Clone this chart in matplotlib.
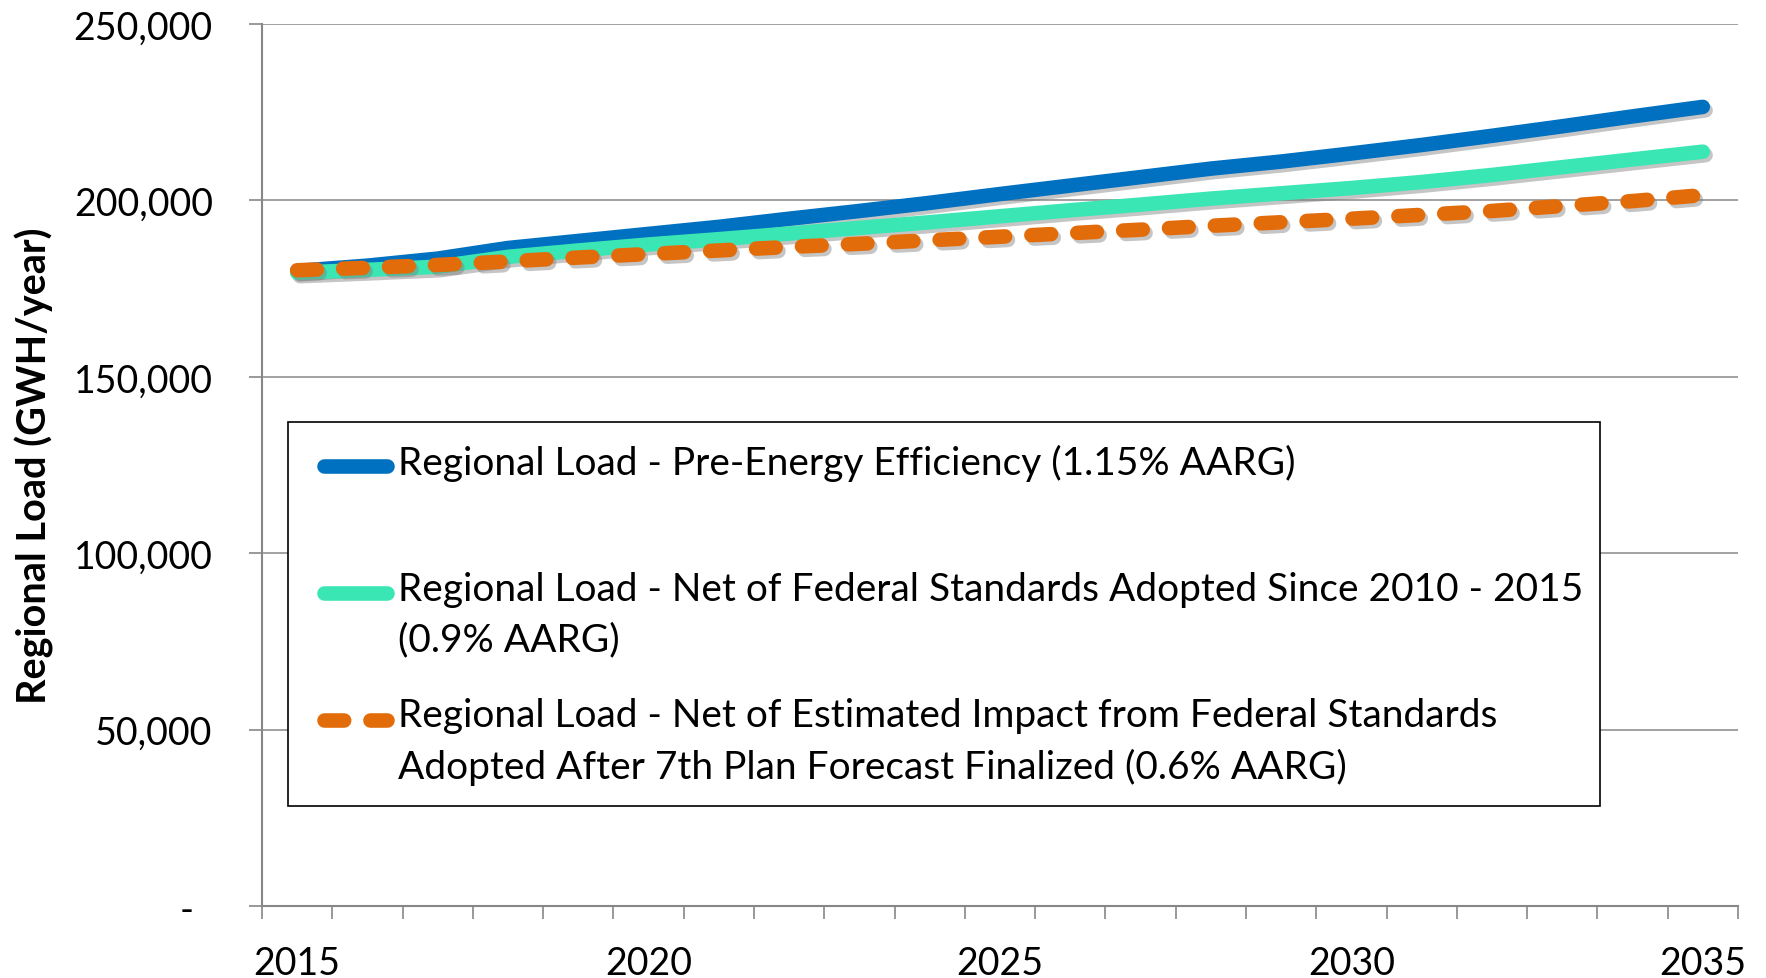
import numpy as np
import matplotlib
matplotlib.use("Agg")
import matplotlib.pyplot as plt
import matplotlib.patheffects as pe
from matplotlib.legend_handler import HandlerLine2D
from matplotlib.ticker import FuncFormatter, MultipleLocator

plt.rcParams['font.family'] = ['Lato', 'DejaVu Sans']

years = list(range(2015, 2036))
pre_ee = [180.0, 181.5, 183.5, 186.5, 188.5, 190.5, 192.5, 194.8, 197.0, 199.3, 201.8,
          204.2, 206.6, 209.0, 211.0, 213.3, 215.7, 218.3, 221.0, 223.8, 226.5]
net_fed = [179.5, 180.3, 181.2, 184.0, 185.8, 187.5, 189.0, 190.6, 192.2, 193.8, 195.5,
           197.2, 198.8, 200.5, 202.0, 203.5, 205.2, 207.2, 209.4, 211.6, 213.8]
net_7th = [180.2, 180.9, 181.7, 182.7, 183.8, 184.8, 185.8, 186.8, 187.7, 188.7, 189.7,
           190.7, 191.7, 192.8, 193.8, 194.8, 195.9, 197.0, 198.4, 199.8, 201.5]
labels = ["Regional Load - Pre-Energy Efficiency (1.15% AARG)\n ",
          "Regional Load - Net of Federal Standards Adopted Since 2010 - 2015\n(0.9% AARG)",
          "Regional Load - Net of Estimated Impact from Federal Standards\n"
          "Adopted After 7th Plan Forecast Finalized (0.6% AARG)"]
colors = ["#0070C0", "#3AE6B4", "#E36C0A"]

FS = 27
LEG_FS = 28
HANDLE_SHIFT = 15.8  # points, lifts the sample to the first text line


class FirstLineHandler(HandlerLine2D):
    # put the legend sample next to the first text line, like Excel does
    def create_artists(self, legend, orig_handle, xdescent, ydescent,
                       width, height, fontsize, trans):
        arts = super().create_artists(legend, orig_handle, xdescent, ydescent,
                                      width, height, fontsize, trans)
        for a in arts:
            y = np.array(a.get_ydata(), float) + HANDLE_SHIFT
            x = np.array(a.get_xdata(), float)
            if len(x) >= 2:
                x0 = x[0] + 0.375 * fontsize
                x = np.linspace(x0, x[-1], len(x))
            a.set_data(x, y)
        return arts


fig = plt.figure(figsize=(17.66, 9.79), dpi=100)
ax = fig.add_axes([0.1484, 0.0735, 0.8357, 0.901])

x = np.arange(len(years))
shadow = [pe.SimpleLineShadow(offset=(2, -2.5), shadow_color="#7f7f7f", alpha=0.45), pe.Normal()]
lw = 10.5
h1, = ax.plot(x, np.array(pre_ee) * 1000, color=colors[0], lw=lw,
              solid_capstyle="round", path_effects=shadow, label=labels[0])
h2, = ax.plot(x, np.array(net_fed) * 1000, color=colors[1], lw=lw,
              solid_capstyle="round", path_effects=shadow, label=labels[1])
h3, = ax.plot(x, np.array(net_7th) * 1000, color=colors[2], lw=lw,
              dashes=(1.35, 1.8), dash_capstyle="round", path_effects=shadow,
              label=labels[2])

ax.set_xlim(-0.5, len(years) - 0.5)
ax.set_ylim(0, 250000)
ax.set_xticks(x[::5])
ax.set_xticklabels([str(y) for y in years[::5]])
ax.set_xticks(np.arange(-0.5, len(years)), minor=True)
ax.tick_params(axis="x", which="major", length=0, pad=28, labelsize=FS)
ax.tick_params(axis="x", which="minor", length=9.5, width=1.2, color="#878787", direction="out")
ax.yaxis.set_major_locator(MultipleLocator(50000))
ax.yaxis.set_major_formatter(FuncFormatter(lambda v, p: "-  " if v == 0 else f"{v:,.0f}"))
ax.tick_params(axis="y", length=9.5, width=1.2, color="#878787", pad=26, labelsize=FS)
ax.grid(axis="y", color="#878787", lw=1.1)
ax.set_axisbelow(True)
for s in ["top", "right"]:
    ax.spines[s].set_visible(False)
for s in ["left", "bottom"]:
    ax.spines[s].set_color("#878787")
    ax.spines[s].set_linewidth(1.5)

ax.set_ylabel("Regional Load (GWH/year)", fontsize=28.5, fontweight="bold")
ax.yaxis.set_label_coords(-0.141, 0.5)

leg = ax.legend(handles=[h1, h2, h3], loc="upper left",
                bbox_to_anchor=(0.0176, 0.1145, 0.889, 0.434), mode="expand",
                borderaxespad=0, fontsize=LEG_FS, frameon=True, fancybox=False,
                framealpha=1, edgecolor="black", borderpad=0.55, labelspacing=1.03,
                handlelength=2.0, handletextpad=0.28,
                handler_map={h1: FirstLineHandler(), h2: FirstLineHandler(),
                             h3: FirstLineHandler()})
leg.get_frame().set_linewidth(1.2)
for t in leg.get_texts():
    t.set_linespacing(1.485)
for l in leg.get_lines():
    l.set_path_effects([])

fig.savefig("out.png", dpi=100)
